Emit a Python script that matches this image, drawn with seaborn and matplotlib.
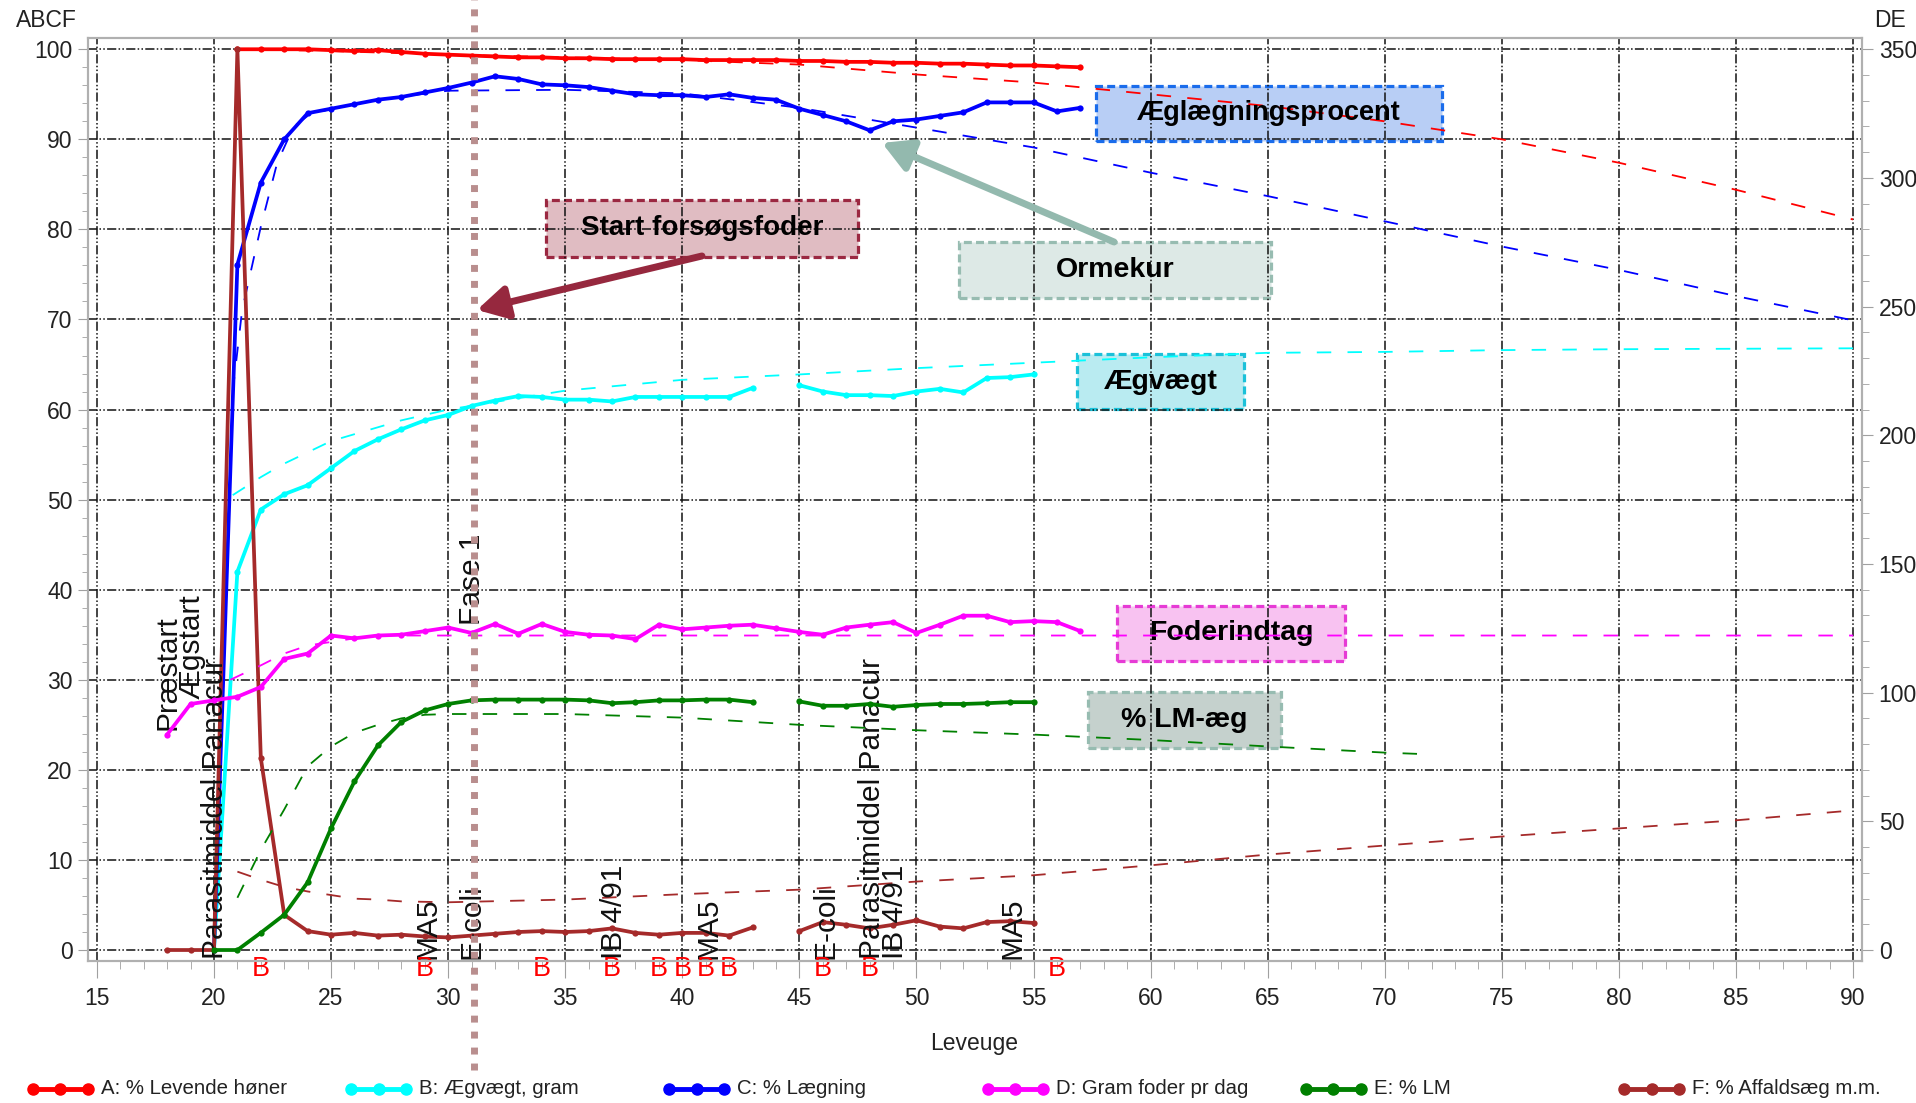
import pandas as pd
import seaborn as sns
import matplotlib.pyplot as plt
from matplotlib.lines import Line2D
from matplotlib.patches import Rectangle
from matplotlib.transforms import blended_transform_factory

# Ugentlige resultater (Leveuge)
weeks_a = list(range(21, 58))
levende = [100, 100, 100, 100, 99.9, 99.8, 99.9, 99.7, 99.5, 99.4, 99.3, 99.2, 99.1, 99.1,
           99.0, 99.0, 98.9, 98.9, 98.9, 98.9, 98.8, 98.8, 98.8, 98.8, 98.7, 98.7, 98.6,
           98.6, 98.5, 98.5, 98.4, 98.4, 98.3, 98.2, 98.2, 98.1, 98.0]

weeks_b = list(range(20, 56))
aegvaegt = [0, 42.0, 48.9, 50.6, 51.6, 53.5, 55.4, 56.7, 57.8, 58.8, 59.4, 60.4, 61.0, 61.5,
            61.4, 61.1, 61.1, 60.9, 61.4, 61.4, 61.4, 61.4, 61.4, 62.4, None, 62.7, 62.0,
            61.6, 61.6, 61.5, 62.0, 62.3, 61.9, 63.5, 63.6, 63.9]

weeks_c = list(range(20, 58))
laegning = [0, 76.1, 85.2, 90.0, 92.9, 93.4, 93.9, 94.4, 94.7, 95.2, 95.7, 96.3, 97.0, 96.7,
            96.1, 96.0, 95.8, 95.4, 95.0, 94.9, 94.9, 94.7, 95.0, 94.6, 94.4, 93.4, 92.7,
            92.0, 91.0, 92.0, 92.2, 92.6, 93.0, 94.1, 94.1, 94.1, 93.1, 93.5]

# D og E hører til højre akse (DE)
weeks_d = list(range(18, 58))
foder = [83.7, 95.6, 97.0, 98.4, 102.2, 113.1, 115.2, 122.2, 121.1, 122.2, 122.5, 123.9,
         125.3, 123.2, 126.7, 122.9, 126.7, 123.6, 122.5, 122.2, 120.8, 126.4, 124.6, 125.3,
         126.0, 126.4, 125.0, 123.6, 122.5, 125.3, 126.4, 127.4, 123.2, 126.4, 129.9, 129.9,
         127.4, 127.8, 127.4, 123.9]

weeks_e = list(range(20, 56))
lm = [0, 0, 6.7, 13.7, 26.3, 47.3, 65.5, 79.5, 88.6, 93.1, 95.6, 97.0, 97.3, 97.3, 97.3,
      97.3, 97.0, 95.9, 96.3, 97.0, 97.0, 97.3, 97.3, 96.3, None, 96.6, 94.9, 94.9, 95.6,
      94.5, 95.2, 95.6, 95.6, 95.9, 96.3, 96.3]

weeks_f = list(range(18, 56))
affald = [0, 0, 0, 100, 21.3, 3.9, 2.1, 1.7, 1.9, 1.6, 1.7, 1.5, 1.4, 1.6, 1.8, 2.0, 2.1,
          2.0, 2.1, 2.4, 1.9, 1.7, 1.9, 1.9, 1.6, 2.5, None, 2.1, 3.1, 2.8, 2.4, 2.8, 3.3,
          2.6, 2.4, 3.1, 3.2, 3.0]

# Normkurver (stiplede)
norm_a_weeks = [21, 25, 30, 35, 40, 45, 50, 55, 60, 65, 70, 75, 80, 85, 90]
norm_a = [100, 99.8, 99.4, 99.1, 98.8, 98.3, 97.2, 96.3, 95.0, 93.7, 92.0, 90.0, 87.4, 84.4, 81.1]
norm_b_weeks = [20.8, 22, 23, 25, 28, 30, 35, 40, 45, 50, 55, 60, 65, 70, 75, 80, 90]
norm_b = [50.5, 52.5, 54.0, 56.5, 58.8, 60.0, 62.1, 63.3, 63.9, 64.6, 65.2, 65.8, 66.3, 66.4,
          66.6, 66.7, 66.8]
norm_c_weeks = [20.8, 21.2, 22, 22.7, 23.4, 24, 25, 27, 30, 35, 40, 45, 50, 55, 60, 65, 70,
                75, 80, 85, 90]
norm_c = [62, 71, 80.3, 87.4, 91.4, 92.6, 93.4, 94.4, 95.4, 95.5, 95.1, 93.5, 91.3, 89.1,
          86.3, 83.7, 80.9, 78.1, 75.5, 72.6, 69.9]
norm_d_weeks = [20.7, 22, 23, 24, 25, 26, 27, 90]
norm_d = [105.0, 110.6, 115.2, 118.3, 119.7, 121.1, 122.2, 122.2]
norm_e_weeks = [21, 22, 23, 24, 25, 26, 27, 28, 29, 30, 35, 40, 45, 50, 55, 60, 65, 70, 72]
norm_e = [20.3, 38.9, 54.6, 71.4, 79.1, 84.4, 87.5, 90.0, 91.4, 91.7, 91.7, 90.3, 87.5, 85.4,
          83.7, 81.6, 79.1, 76.7, 76.0]
norm_f_weeks = [21, 22, 23, 24, 25, 26, 27, 28, 30, 35, 40, 45, 50, 55, 60, 65, 70, 75, 80, 85, 90]
norm_f = [8.7, 7.8, 7.0, 6.5, 6.1, 5.7, 5.6, 5.4, 5.3, 5.6, 6.2, 6.7, 7.6, 8.3, 9.4, 10.6,
          11.6, 12.6, 13.5, 14.4, 15.5]

# Hændelser (lodrette tekster) og vaccinationer (B)
event_weeks = [18, 19.06, 20.04, 29.1, 31.0, 31.0, 37.1, 41.1, 46.1, 48.1, 49.1, 54.1]
event_labels = ["Præstart", "Ægstart", "Parasitmiddel Panacur", "MA5", "E-coli", "Fase 1",
                "IB 4/91", "MA5", "E-coli", "Parasitmiddel Panacur", "IB 4/91", "MA5"]
event_base = [24.4, 27.9, -1.0, -1.0, -1.0, 36.1, -1.0, -1.0, -1.0, -1.0, -1.0, -1.0]
b_weeks = [22, 29, 34, 37, 39, 40, 41, 42, 46, 48, 56]
phase_week = 31.1

legend_labels = ["A: % Levende høner", "B: Ægvægt, gram", "C: % Lægning",
                 "D: Gram foder pr dag", "E: % LM", "F: % Affaldsæg m.m."]
colors = ["#FF0000", "#00FFFF", "#0000FF", "#FF00FF", "#008000", "#A52A2A"]

sns.set_style("white")
plt.rcParams["font.family"] = ["Liberation Sans", "DejaVu Sans"]

fig = plt.figure(figsize=(19.16, 11.03), dpi=100)
ax = fig.add_axes([0.04593, 0.12874, 0.92589, 0.83681])
ax2 = ax.twinx()


def plot_series(axis, weeks, values, color, norm=False):
    df = pd.DataFrame({"Leveuge": weeks, "værdi": values}, dtype=float)
    ok = df["værdi"].notna()
    gap_id = (~ok).cumsum()
    for _, part in df[ok].groupby(gap_id[ok]):
        if norm:
            sns.lineplot(data=part, x="Leveuge", y="værdi", ax=axis, color=color,
                         linewidth=1.3, linestyle=(0, (8, 9)), estimator=None, legend=False)
        else:
            sns.lineplot(data=part, x="Leveuge", y="værdi", ax=axis, color=color,
                         linewidth=2.7, marker="o", markersize=4.5, markeredgewidth=0,
                         estimator=None, legend=False)


# normkurver
plot_series(ax, norm_a_weeks, norm_a, colors[0], norm=True)
plot_series(ax, norm_b_weeks, norm_b, colors[1], norm=True)
plot_series(ax, norm_c_weeks, norm_c, colors[2], norm=True)
plot_series(ax, norm_f_weeks, norm_f, colors[5], norm=True)
plot_series(ax2, norm_d_weeks, norm_d, colors[3], norm=True)
plot_series(ax2, norm_e_weeks, norm_e, colors[4], norm=True)

# resultater
plot_series(ax, weeks_a, levende, colors[0])
plot_series(ax, weeks_b, aegvaegt, colors[1])
plot_series(ax, weeks_c, laegning, colors[2])
plot_series(ax, weeks_f, affald, colors[5])
plot_series(ax2, weeks_d, foder, colors[3])
plot_series(ax2, weeks_e, lm, colors[4])

# akser
ax.set_xlim(14.62, 90.38)
ax.set_ylim(-1.22, 101.25)
ax2.set_ylim(-1.22 * 3.5, 101.25 * 3.5)
ax.set_xlabel("")
ax.set_ylabel("")
ax2.set_ylabel("")
ax.set_xticks(range(15, 91, 5))
ax.set_xticks(range(15, 91), minor=True)
ax.set_yticks(range(0, 101, 10))
ax.set_yticks(range(0, 101, 2), minor=True)
ax2.set_yticks(range(0, 351, 50))
ax2.set_yticks(range(0, 351, 10), minor=True)

grid_ls = (0, (6, 1.5, 1, 1.5, 1, 1.5))
ax.set_axisbelow(True)
ax.grid(True, which="major", color="#111111", linestyle=grid_ls, linewidth=1.1)
ax2.grid(False)

for a in (ax, ax2):
    for sp in a.spines.values():
        sp.set_color("#B0B0B0")
        sp.set_linewidth(1.5)
        sp.set_visible(True)

ax.tick_params(axis="both", which="both", direction="out", color="#A0A0A0",
               labelcolor="#222222", labelsize=16.5, bottom=True, left=True)
ax.tick_params(axis="y", which="major", length=7, pad=4)
ax.tick_params(axis="y", which="minor", length=4)
ax.tick_params(axis="x", which="major", length=12, pad=7)
ax.tick_params(axis="x", which="minor", length=6)
ax2.tick_params(axis="y", which="both", direction="out", color="#A0A0A0",
                labelcolor="#222222", labelsize=16.5, right=True)
ax2.tick_params(axis="y", which="major", length=8, pad=4)
ax2.tick_params(axis="y", which="minor", length=5)

# lodrette hændelsestekster
for wk, txt, base in zip(event_weeks, event_labels, event_base):
    ax.text(wk, base, txt, rotation=90, ha="center", va="bottom", fontsize=21.5,
            color="#111111", zorder=3)

# vaccinationer under x-aksen
trans = blended_transform_factory(ax.transData, ax.transAxes)
for wk in b_weeks:
    ax.text(wk, -0.009, "B", transform=trans, ha="center", va="center", fontsize=19.5,
            color="#FF0000", clip_on=False)

# tekstbokse
boxes = [
    ("Start forsøgsfoder", 34.18, 76.94, 13.32, 6.33, "#E0BCC2", "#9B2841", 20),
    ("Ormekur", 51.82, 72.40, 13.32, 6.22, "#DDE9E6", "#97BCB1", 20.5),
    ("Æglægningsprocent", 57.67, 89.82, 14.78, 6.11, "#B8CEF5", "#1A6CEB", 19.5),
    ("Ægvægt", 56.86, 60.06, 7.13, 6.10, "#B9EBF1", "#1BC1D9", 20.5),
    ("Foderindtag", 58.57, 32.09, 9.73, 6.11, "#F8C2F1", "#E63BD5", 20.5),
    ("% LM-æg", 57.33, 22.43, 8.24, 6.17, "#C5D1CD", "#97BCB1", 20.5),
]
for txt, x0, y0, w, h, face, edge, fs in boxes:
    ax.add_patch(Rectangle((x0, y0), w, h, facecolor=face, edgecolor=edge, linewidth=2.3,
                           linestyle=(0, (2.5, 1.3)), zorder=0.3))
    ax.text(x0 + w / 2, y0 + h / 2, txt, ha="center", va="center", fontsize=fs,
            fontweight="bold", color="black", zorder=3)

ax.annotate("", xy=(31.23, 71.06), xytext=(40.84, 77.05),
            arrowprops=dict(arrowstyle="-|>,head_length=0.9,head_width=0.5", color="#96283E",
                            lw=5, mutation_scale=20, shrinkA=0, shrinkB=0), zorder=4)
ax.annotate("", xy=(48.53, 89.6), xytext=(58.44, 78.6),
            arrowprops=dict(arrowstyle="-|>,head_length=0.9,head_width=0.5", color="#93B9AE",
                            lw=5, mutation_scale=20, shrinkA=0, shrinkB=0), zorder=4)

# fasestreg (start forsøgsfoder)
ax2.axvline(phase_week, ymin=-0.118, ymax=1.042, color="#B98E8E", linewidth=5,
            linestyle=(0, (1.0, 1.3)), clip_on=False, zorder=10)

# aksetitler
fig.text(0.0240, 0.9811, "ABCF", ha="center", va="center", fontsize=16.5, color="#222222")
fig.text(0.9864, 0.9811, "DE", ha="center", va="center", fontsize=16.5, color="#222222")
fig.text(0.5084, 0.0535, "Leveuge", ha="center", va="center", fontsize=16.5, color="#222222")

# forklaring
for i, (lab, col) in enumerate(zip(legend_labels, colors)):
    x0 = (33 + i * 318.2) / 1916
    x1 = x0 + 55 / 1916
    y = 1 - 1089 / 1103
    fig.add_artist(Line2D([x0, (x0 + x1) / 2, x1], [y, y, y], transform=fig.transFigure,
                          color=col, linewidth=3.5, marker="o", markersize=8))
    fig.text(x0 + 68 / 1916, y, lab, ha="left", va="center", fontsize=14.7, color="#222222")

fig.savefig("out.png", dpi=100)
